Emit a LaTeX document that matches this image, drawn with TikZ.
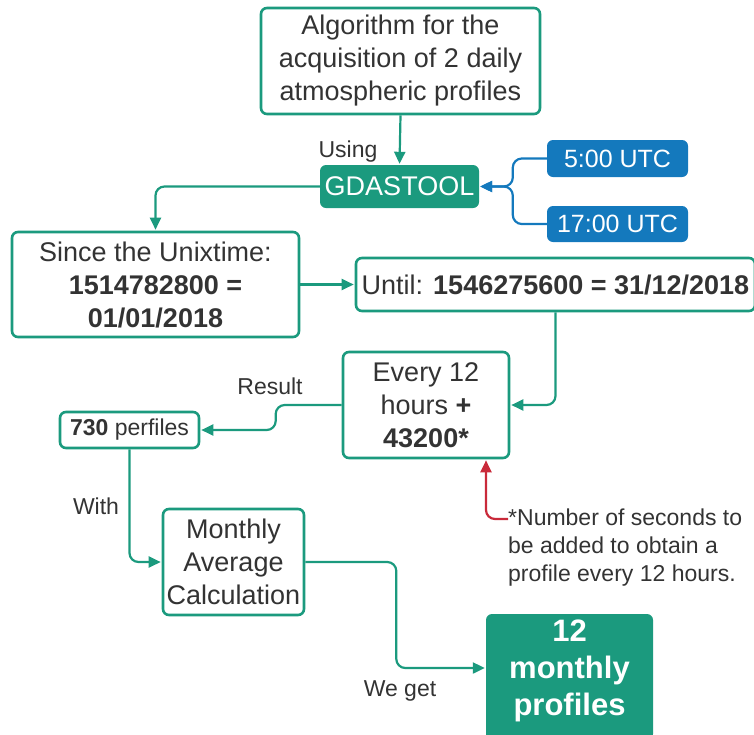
\documentclass[tikz,border=0pt]{standalone}
\usepackage{fontspec}
\setmainfont{Liberation Sans}
\usetikzlibrary{arrows.meta}
\definecolor{tgreen}{HTML}{1B9A7E}
\definecolor{tblue}{HTML}{1479BD}
\definecolor{tred}{HTML}{C92A3A}
\definecolor{ttext}{HTML}{333333}
\begin{document}
\begin{tikzpicture}[x=1pt,y=-1pt,
  box/.style={draw=tgreen, line width=2.6pt, rounded corners=6pt, fill=white, align=center, inner sep=0pt, text=ttext, font=\fontsize{27}{33}\selectfont},
  fbox/.style={fill=tgreen, rounded corners=6pt, inner sep=0pt, text=white, align=center},
  bbox/.style={fill=tblue, rounded corners=6pt, inner sep=0pt, text=white, font=\fontsize{25}{30}\selectfont},
  conn/.style={draw=tgreen, line width=2.2pt, rounded corners=9pt, shorten >=1pt, -{Triangle[length=12pt,width=11pt]}},
  bconn/.style={draw=tblue, line width=2.2pt, rounded corners=9pt, shorten >=1pt, -{Triangle[length=12pt,width=11pt]}},
  rconn/.style={draw=tred, line width=2.2pt, rounded corners=9pt, shorten >=1pt, -{Triangle[length=12pt,width=11pt]}},
  lab/.style={text=ttext, font=\fontsize{23}{28}\selectfont, inner sep=0pt}]
\useasboundingbox (0,0) rectangle (754,734);

\node[box, minimum width=279pt, minimum height=106pt] (alg) at (400.5,61) {Algorithm for the\\acquisition of 2 daily\\atmospheric profiles};
\node[fbox, font=\fontsize{27}{33}\selectfont, minimum width=159pt, minimum height=43pt] (gdas) at (399.5,186.5) {GDASTOOL};
\node[bbox, minimum width=141pt, minimum height=37pt] (u5) at (617.5,158.5) {5:00 UTC};
\node[bbox, minimum width=141pt, minimum height=36pt] (u17) at (617.5,224) {17:00 UTC};
\node[box, minimum width=287pt, minimum height=105pt] (since) at (155.5,284.5) {Since the Unixtime:\\\textbf{1514782800 =}\\\textbf{01/01/2018}};
\node[box, minimum width=399pt, minimum height=53pt] (until) at (555.5,284.5) {Until: \textbf{1546275600 = 31/12/2018}};
\node[box, minimum width=166pt, minimum height=106pt] (every) at (426,405) {Every 12\\hours \textbf{+}\\\textbf{43200*}};
\node[box, font=\fontsize{23}{28}\selectfont, minimum width=139pt, minimum height=36pt] (p730) at (129.5,430) {\textbf{730} perfiles};
\node[box, minimum width=141pt, minimum height=106pt] (monthly) at (233.5,562) {Monthly\\Average\\Calculation};
\node[fbox, minimum width=167pt, minimum height=126pt] (twelve) at (569.5,677) {};
\node[text=white, align=center, inner sep=0pt, font=\fontsize{31}{37}\selectfont\bfseries] (twelvetxt) at (569.5,671) {12\\monthly\\profiles};
\node[lab, align=left, anchor=north west] (note) at (508,509) {*Number of seconds to\\be added to obtain a\\profile every 12 hours.};
\coordinate (nstart) at (508,519);

\node[lab] (using) at (348,152) {Using};
\node[lab] (result) at (270,386) {Result};
\node[lab] (with) at (96,506) {With};
\node[lab] (weget) at (400,691) {We get};

\draw[conn] (alg.south) -- (gdas.north);
\draw[conn] (gdas.west) -| (since.north);
\draw[bconn] (u5.west) -- ++(-34,0) |- (gdas.east);
\draw[bconn] (u17.west) -- ++(-34,0) |- (gdas.east);
\draw[conn] (since.east) -- (until.west);
\draw[conn] (until.south) |- (every.east);
\draw[conn] (every.west) -- ++(-66,0) |- (p730.east);
\draw[conn] (p730.south) |- (monthly.west);
\draw[conn] (monthly.east) -- ++(91,0) |- ([yshift=9pt]twelve.west);
\draw[rconn] (nstart) -| ([xshift=60pt]every.south);
\end{tikzpicture}
\end{document}
